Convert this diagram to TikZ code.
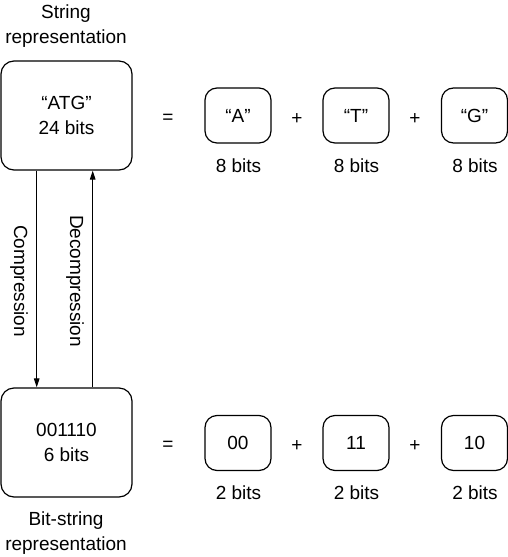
\documentclass[tikz,border=0pt]{standalone}
\usepackage{fontspec}
\setmainfont{Liberation Sans}
\usetikzlibrary{arrows.meta}
\begin{document}
\begin{tikzpicture}[x=1pt,y=-1pt,
  every node/.style={font=\fontsize{19}{24.5}\selectfont, align=center, inner sep=0pt},
  bigbox/.style={draw, line width=1.2pt, rounded corners=13pt, minimum width=131pt, minimum height=109pt},
  smallbox/.style={draw, line width=1.2pt, rounded corners=12pt, minimum width=66pt, minimum height=55pt},
  conn/.style={line width=1.1pt, -{Triangle[length=9pt,width=5.5pt]}}]
\useasboundingbox (0,0) rectangle (508,557);
% top row
\node (tlab) at (66,26) {String\\representation};
\node[bigbox] (top) at (66.5,115.5) {“ATG”\\24 bits};
\node (eq1) at (168,119) {=};
\node[smallbox] (a) at (238,115.5) {“A”};
\node (p1) at (297,119) {+};
\node[smallbox] (t) at (356,115.5) {“T”};
\node (p2) at (415,119) {+};
\node[smallbox] (g) at (474.5,115.5) {“G”};
\node (la) at (238.5,166) {8 bits};
\node (lt) at (356.5,166) {8 bits};
\node (lg) at (475,166) {8 bits};
% bottom row
\node[bigbox] (bot) at (66.5,442.5) {001110\\6 bits};
\node (blab) at (66,533) {Bit-string\\representation};
\node (eq2) at (168,446) {=};
\node[smallbox] (b0) at (238,443) {00};
\node (p3) at (297,446) {+};
\node[smallbox] (b1) at (356,443) {11};
\node (p4) at (415,446) {+};
\node[smallbox] (b2) at (474.5,443) {10};
\node (l0) at (238.5,493) {2 bits};
\node (l1) at (356.5,493) {2 bits};
\node (l2) at (475,493) {2 bits};
% arrows
\coordinate (cx) at (36.7,0);
\coordinate (dx) at (92.7,0);
\draw[conn] (top.south -| cx) -- (bot.north -| cx);
\draw[conn] (bot.north -| dx) -- (top.south -| dx);
\node[rotate=-90] (comp) at (19,281) {Compression};
\node[rotate=-90] (decomp) at (75,281) {Decompression};
\end{tikzpicture}
\end{document}
